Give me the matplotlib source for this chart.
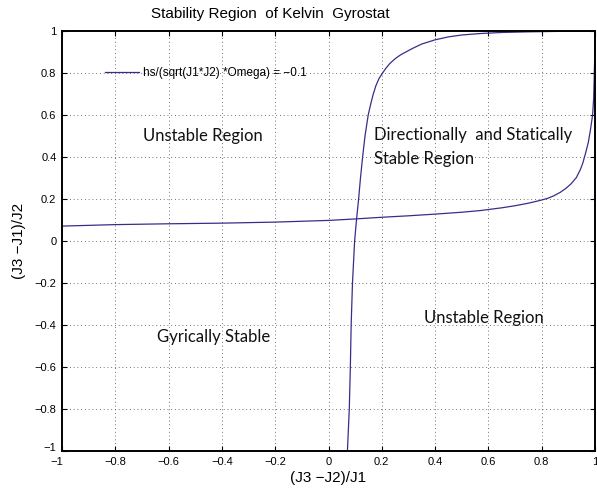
import matplotlib

matplotlib.use("Agg")

import matplotlib.pyplot as plt
import matplotlib.transforms as mtransforms

# curve 1: steep branch
steep_x = [0.071, 0.078, 0.082, 0.085, 0.090, 0.098, 0.105, 0.113, 0.120,
           0.128, 0.137, 0.149, 0.158, 0.168, 0.178, 0.190, 0.203, 0.215,
           0.230, 0.250, 0.270, 0.290, 0.320, 0.350, 0.400, 0.450, 0.500,
           0.570, 0.650, 0.750, 0.850, 1.000]
steep_y = [-1.0, -0.8, -0.6, -0.4, -0.2, 0.0, 0.1, 0.2, 0.3,
           0.4, 0.5, 0.6, 0.65, 0.7, 0.74, 0.775, 0.8, 0.822,
           0.845, 0.868, 0.886, 0.9, 0.92, 0.938, 0.958, 0.972, 0.981,
           0.988, 0.993, 0.996, 0.998, 1.0]

# curve 2: flat branch
flat_x = [-1.0, -0.8, -0.6, -0.4, -0.2, 0.0, 0.1, 0.2, 0.3,
          0.4, 0.5, 0.57, 0.65, 0.7, 0.75, 0.79, 0.822, 0.845,
          0.87, 0.89, 0.91, 0.93, 0.945, 0.954, 0.965, 0.975, 0.983,
          0.991, 0.995, 0.997, 0.999, 1.000]
flat_y = [0.071, 0.078, 0.082, 0.085, 0.090, 0.098, 0.105, 0.113, 0.120,
          0.128, 0.137, 0.145, 0.158, 0.168, 0.180, 0.192, 0.203, 0.215,
          0.232, 0.25, 0.272, 0.302, 0.34, 0.37, 0.42, 0.47, 0.53,
          0.60, 0.68, 0.78, 0.88, 1.000]

ticks = [-1, -0.8, -0.6, -0.4, -0.2, 0, 0.2, 0.4, 0.6, 0.8, 1]
tick_labels = ["\u22121", "\u22120.8", "\u22120.6", "\u22120.4", "\u22120.2",
               "0", "0.2", "0.4", "0.6", "0.8", "1"]

legend_label = "hs/(sqrt(J1*J2) *Omega) = \u22120.1"

# (x, y, text) region labels in data units
region_labels = [
    (-0.695, 0.50, "Unstable Region"),
    (0.169, 0.505, "Directionally  and Statically"),
    (0.169, 0.39, "Stable Region"),
    (-0.643, -0.455, "Gyrically Stable"),
    (0.357, -0.365, "Unstable Region"),
]

line_color = "#3d2b8a"
sans = ["Liberation Sans", "DejaVu Sans"]
label_font = ["Lato", "DejaVu Sans"]

fig = plt.figure(figsize=(5.97, 4.98), dpi=100)
ax = fig.add_axes([62 / 597, 47 / 498, 533 / 597, 420 / 498])

ax.plot(steep_x, steep_y, color=line_color, linewidth=0.9, label=legend_label)
ax.plot(flat_x, flat_y, color=line_color, linewidth=0.9)

ax.set_xlim(-1, 1)
ax.set_ylim(-1, 1)
ax.set_xticks(ticks)
ax.set_yticks(ticks)
ax.set_xticklabels(tick_labels, family=sans, fontsize=8)
ax.set_yticklabels(tick_labels, family=sans, fontsize=8)
ax.tick_params(direction="in", length=3.5, width=0.8, top=True, right=True,
               pad=4)
ax.grid(True, color="#444444", linestyle=(0, (1, 3.5)), linewidth=0.6)
for spine in ax.spines.values():
    spine.set_linewidth(1.4)

# nudge the corner "-1" labels apart as the original does
ax.get_yticklabels()[0].set_transform(
    ax.get_yticklabels()[0].get_transform()
    + mtransforms.ScaledTranslation(0, 4 / 100, fig.dpi_scale_trans))
ax.get_xticklabels()[0].set_transform(
    ax.get_xticklabels()[0].get_transform()
    + mtransforms.ScaledTranslation(-5 / 100, 0, fig.dpi_scale_trans))

for x, y, text in region_labels:
    ax.text(x, y, text, family=label_font, fontsize=12, ha="left",
            va="center", color="#111111")

ax.legend(loc="center left", bbox_to_anchor=(0.06, 0.90), frameon=False,
          handlelength=2.9, handletextpad=0.35,
          prop={"family": sans, "size": 8.5})

ax.set_xlabel("(J3 \u2212J2)/J1", family=sans, fontsize=11, labelpad=3)
ax.set_ylabel("(J3 \u2212J1)/J2", family=sans, fontsize=11, labelpad=6)
fig.text(270 / 597, 1 - 14 / 498, "Stability Region  of Kelvin  Gyrostat",
         family=sans, fontsize=11, ha="center", va="center")

fig.savefig("out.png", dpi=100)
